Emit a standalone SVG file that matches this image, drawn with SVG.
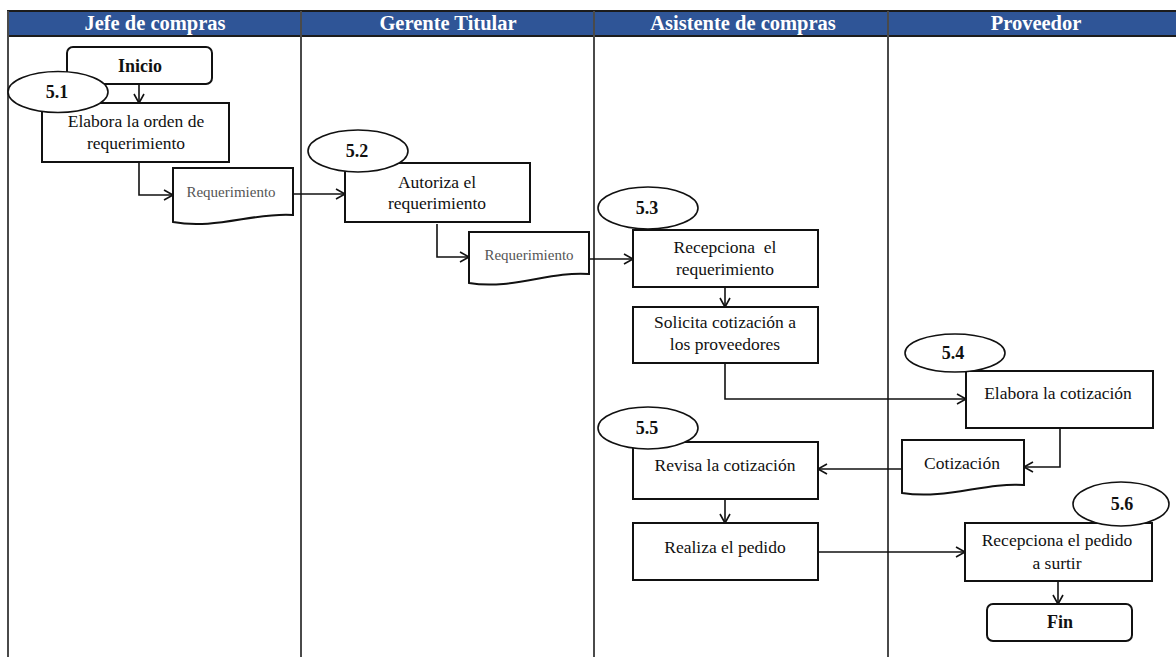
<svg xmlns="http://www.w3.org/2000/svg" width="1176" height="657" viewBox="0 0 1176 657">
  <style>
    .lane { stroke: #4a4a4a; stroke-width: 2; fill: none; }
    .hdr { fill: #2F5597; stroke: #1c1c1c; stroke-width: 2; }
    text { font-family: "Liberation Serif", "Times New Roman", Tinos, "DejaVu Serif", serif; }
    .hdrtxt { font-weight: bold; font-size: 20.5px; fill: #ffffff; text-anchor: middle; }
    .box { fill: #ffffff; stroke: #111111; stroke-width: 2; }
    .doc { fill: #ffffff; stroke: #111111; stroke-width: 2; }
    .oval { fill: #ffffff; stroke: #111111; stroke-width: 1.6; }
    .txt { font-size: 17.5px; fill: #111111; text-anchor: middle; white-space: pre; }
    .bold { font-weight: bold; font-size: 18px; fill: #111111; text-anchor: middle; }
    .doctxt { font-size: 15px; fill: #555555; text-anchor: middle; }
    .conn { fill: none; stroke: #111111; stroke-width: 1.6; marker-end: url(#arrow); }
  </style>
  <defs>
    <marker id="arrow" markerUnits="userSpaceOnUse" markerWidth="14" markerHeight="14" refX="10" refY="6" orient="auto">
      <path d="M1,1 L10,6 L1,11" fill="none" stroke="#111111" stroke-width="1.6"/>
    </marker>
  </defs>

  <rect width="1176" height="657" fill="#ffffff"/>

  <!-- swimlane header and lane dividers -->
  <g id="lanes">
    <rect class="hdr" x="8" y="11" width="1170" height="25"/>
    <line class="lane" x1="8" y1="11" x2="8" y2="657"/>
    <line class="lane" x1="301" y1="11" x2="301" y2="657"/>
    <line class="lane" x1="594" y1="11" x2="594" y2="657"/>
    <line class="lane" x1="888" y1="11" x2="888" y2="657"/>
    <text class="hdrtxt" x="155" y="30">Jefe de compras</text>
    <text class="hdrtxt" x="448" y="30">Gerente Titular</text>
    <text class="hdrtxt" x="743" y="30">Asistente de compras</text>
    <text class="hdrtxt" x="1036" y="30">Proveedor</text>
  </g>

  <!-- connectors -->
  <g id="connectors">
    <path class="conn" d="M139,84 V103"/>
    <path class="conn" d="M139,162 V195 H173"/>
    <path class="conn" d="M293,194 H345"/>
    <path class="conn" d="M437,224 V257 H469"/>
    <path class="conn" d="M589,259 H633"/>
    <path class="conn" d="M725,287 V307"/>
    <path class="conn" d="M725,363 V399 H966"/>
    <path class="conn" d="M1060,428 V467 H1024"/>
    <path class="conn" d="M902,469 H818"/>
    <path class="conn" d="M725,499 V523"/>
    <path class="conn" d="M818,552 H965"/>
    <path class="conn" d="M1058,581 V604"/>
  </g>

  <g id="inicio">
    <rect class="box" x="67" y="47" width="145" height="37" rx="6"/>
    <text class="bold" x="140" y="72">Inicio</text>
  </g>

  <g id="step51">
    <rect class="box" x="42" y="103" width="187" height="59"/>
    <text class="txt" x="136" y="127">Elabora la orden de</text>
    <text class="txt" x="136" y="149">requerimiento</text>
    <ellipse class="oval" cx="58" cy="92" rx="50" ry="20.5"/>
    <text class="bold" x="57" y="98">5.1</text>
  </g>

  <g id="doc1">
    <path class="doc" d="M173,168 H293 V215 C255,212 215,230 173,222 Z"/>
    <text class="doctxt" x="231" y="197">Requerimiento</text>
  </g>

  <g id="step52">
    <rect class="box" x="345" y="163" width="185" height="59"/>
    <text class="txt" x="437" y="188">Autoriza el</text>
    <text class="txt" x="437" y="209">requerimiento</text>
    <ellipse class="oval" cx="358" cy="151" rx="50" ry="21"/>
    <text class="bold" x="357" y="157">5.2</text>
  </g>

  <g id="doc2">
    <path class="doc" d="M469,232 H589 V274 C550,271 512,290 469,283 Z"/>
    <text class="doctxt" x="529" y="260">Requerimiento</text>
  </g>

  <g id="step53">
    <rect class="box" x="633" y="230" width="185" height="57"/>
    <text class="txt" x="725" y="253">Recepciona  el</text>
    <text class="txt" x="725" y="275">requerimiento</text>
    <ellipse class="oval" cx="648" cy="208" rx="50" ry="21"/>
    <text class="bold" x="647" y="214">5.3</text>
  </g>

  <g id="solicita">
    <rect class="box" x="633" y="307" width="185" height="56"/>
    <text class="txt" x="725" y="328">Solicita cotización a</text>
    <text class="txt" x="725" y="350">los proveedores</text>
  </g>

  <g id="step54">
    <rect class="box" x="966" y="371" width="187" height="57"/>
    <text class="txt" x="1058" y="399">Elabora la cotización</text>
    <ellipse class="oval" cx="955" cy="353" rx="50" ry="19"/>
    <text class="bold" x="953" y="359">5.4</text>
  </g>

  <g id="cotizacion">
    <path class="doc" d="M902,440 H1024 V485 C985,482 946,500 902,493 Z"/>
    <text class="txt" x="962" y="469">Cotización</text>
  </g>

  <g id="step55">
    <rect class="box" x="633" y="442" width="185" height="57"/>
    <text class="txt" x="725" y="471">Revisa la cotización</text>
    <ellipse class="oval" cx="648" cy="428" rx="50" ry="21"/>
    <text class="bold" x="647" y="434">5.5</text>
  </g>

  <g id="pedido">
    <rect class="box" x="633" y="523" width="185" height="57"/>
    <text class="txt" x="725" y="553">Realiza el pedido</text>
  </g>

  <g id="step56">
    <rect class="box" x="965" y="523" width="187" height="58"/>
    <text class="txt" x="1057" y="546">Recepciona el pedido</text>
    <text class="txt" x="1057" y="569">a surtir</text>
    <ellipse class="oval" cx="1121" cy="504" rx="48" ry="22"/>
    <text class="bold" x="1122" y="510">5.6</text>
  </g>

  <g id="fin">
    <rect class="box" x="987" y="604" width="145" height="37" rx="6"/>
    <text class="bold" x="1060" y="628">Fin</text>
  </g>
</svg>
